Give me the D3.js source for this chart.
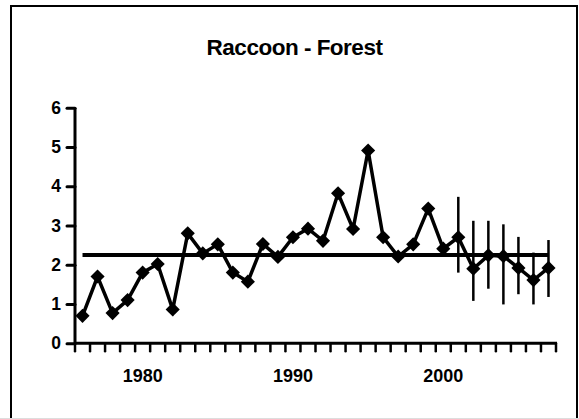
<!DOCTYPE html>
<html>
<head>
  <meta charset="utf-8">
  <script src="https://cdn.jsdelivr.net/npm/d3@7"></script>
  <style>
    body { margin: 0; background: #fff; }
    text { font-family: "Liberation Sans", Arial, Helvetica, sans-serif; font-weight: bold; fill: #000; }
  </style>
</head>
<body>
<svg id="chart" width="579" height="419"></svg>
<script>
// data
var years = d3.range(1976, 2008)
var values = [0.7, 1.7, 0.77, 1.1, 1.8, 2.02, 0.86, 2.8, 2.29, 2.52, 1.8, 1.57,
  2.53, 2.2, 2.7, 2.92, 2.61, 3.82, 2.91, 4.91, 2.7, 2.21, 2.52, 3.43, 2.41,
  2.7, 1.9, 2.24, 2.22, 1.92, 1.61, 1.92]
var errYears = [2001, 2002, 2003, 2004, 2005, 2006, 2007]
var errUpper = [3.73, 3.12, 3.12, 3.03, 2.71, 2.31, 2.63]
var errLower = [1.8, 1.08, 1.39, 0.99, 1.25, 0.99, 1.18]
var meanValue = 2.25
var yTicks = [0, 1, 2, 3, 4, 5, 6]
var xLabels = [1980, 1990, 2000]
var title = 'Raccoon - Forest'

var svg = d3.select('#chart')

// outer frame (bottom runs off the picture)
svg.append('rect')
  .attr('x', 11).attr('y', 6)
  .attr('width', 566).attr('height', 430)
  .attr('fill', 'none')
  .attr('stroke', '#000')
  .attr('stroke-width', 2)
svg.append('line')
  .attr('x1', 0).attr('x2', 579)
  .attr('y1', 418.5).attr('y2', 418.5)
  .attr('stroke', '#ddd')

svg.append('text')
  .attr('x', 294.5).attr('y', 55)
  .attr('text-anchor', 'middle')
  .attr('font-size', 22.5)
  .attr('letter-spacing', -0.5)
  .text(title)

var x = d3.scaleBand().domain(years).range([75, 556])
var y = d3.scaleLinear().domain([0, 6]).range([343.3, 107.7])
var cx = function (yr) { return x(yr) + x.bandwidth() / 2 }

// y axis
var yAxis = svg.append('g')
  .attr('transform', 'translate(75,0)')
  .call(d3.axisLeft(y).tickValues(yTicks).tickSize(8).tickPadding(6).tickFormat(d3.format('d')))
yAxis.select('.domain').attr('stroke-width', 3).attr('d', 'M0,' + y(6) + 'V' + y(0))
yAxis.selectAll('.tick line').attr('stroke-width', 3).attr('stroke-linecap', 'round')
yAxis.selectAll('.tick text')
  .attr('font-size', 17.5)
  .attr('font-family', '"Liberation Sans", Arial, sans-serif')
  .attr('font-weight', 'bold')

// x axis: labels at category centres, tick marks between categories
var xAxis = svg.append('g')
  .attr('transform', 'translate(0,' + y(0) + ')')
  .call(d3.axisBottom(x).tickValues(xLabels).tickSize(0).tickPadding(26))
xAxis.select('.domain').attr('stroke-width', 3).attr('d', 'M75,0H557')
xAxis.selectAll('.tick text')
  .attr('font-size', 18)
  .attr('font-family', '"Liberation Sans", Arial, sans-serif')
  .attr('font-weight', 'bold')
xAxis.selectAll('.xtick')
  .data(years.concat([null]))
  .enter().append('line')
  .attr('class', 'xtick')
  .attr('x1', function (d) { return d === null ? x.range()[1] : x(d) })
  .attr('x2', function (d) { return d === null ? x.range()[1] : x(d) })
  .attr('y1', 0).attr('y2', 8)
  .attr('stroke', '#000')
  .attr('stroke-width', 2.5)
  .attr('stroke-linecap', 'round')

// mean line
svg.append('line')
  .attr('x1', cx(years[0])).attr('x2', cx(years[years.length - 1]))
  .attr('y1', y(meanValue)).attr('y2', y(meanValue))
  .attr('stroke', '#000')
  .attr('stroke-width', 4)

// error bars
svg.selectAll('.err')
  .data(errYears)
  .enter().append('line')
  .attr('class', 'err')
  .attr('x1', function (d) { return cx(d) })
  .attr('x2', function (d) { return cx(d) })
  .attr('y1', function (d, i) { return y(errUpper[i]) })
  .attr('y2', function (d, i) { return y(errLower[i]) })
  .attr('stroke', '#000')
  .attr('stroke-width', 2.5)

// series
var line = d3.line()
  .x(function (d, i) { return cx(years[i]) })
  .y(function (d) { return y(d) })
svg.append('path')
  .datum(values)
  .attr('d', line)
  .attr('fill', 'none')
  .attr('stroke', '#000')
  .attr('stroke-width', 3.5)
  .attr('stroke-linejoin', 'miter')

var diamond = d3.symbol().type(d3.symbolSquare).size(100)
svg.selectAll('.pt')
  .data(values)
  .enter().append('path')
  .attr('class', 'pt')
  .attr('d', diamond)
  .attr('transform', function (d, i) { return 'translate(' + cx(years[i]) + ',' + y(d) + ') rotate(45)' })
  .attr('fill', '#000')
</script>
</body>
</html>
